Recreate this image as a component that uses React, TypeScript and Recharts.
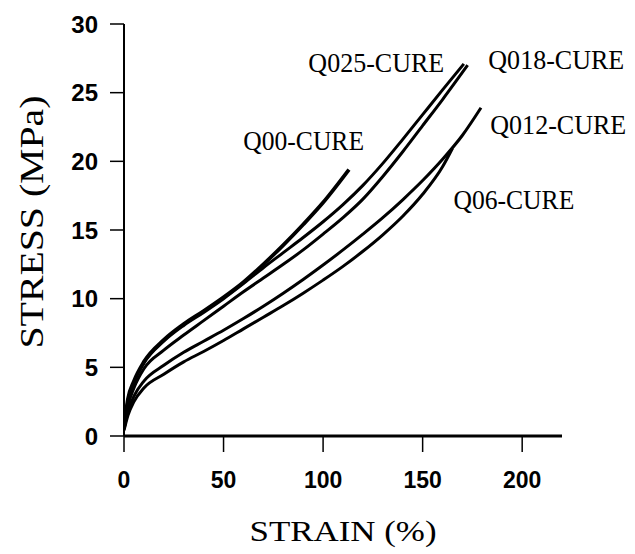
import React from 'react';
import { LineChart, Line, XAxis, YAxis, ReferenceDot, Label } from 'recharts';

// Axis ticks
const strainTicks = [0, 50, 100, 150, 200];
const stressTicks = [0, 5, 10, 15, 20, 25, 30];

// Series values (strain %, stress MPa)
const q00Strain = [0, 2, 5, 10, 20, 30, 40, 50, 60, 70, 80, 90, 100, 113];
const q00Stress = [0.6, 2.7, 4.0, 5.4, 7.0, 8.15, 9.1, 10.1, 11.2, 12.5, 13.9, 15.4, 17.0, 19.4];

const q025Strain = [0, 2, 5, 10, 20, 30, 40, 50, 60, 70, 80, 90, 100, 110, 120, 130, 140, 150, 160, 170.7];
const q025Stress = [0.6, 2.6, 3.9, 5.3, 6.9, 8.05, 9.0, 10.0, 11.1, 12.25, 13.35, 14.45, 15.6, 16.85, 18.25, 19.85, 21.6, 23.4, 25.2, 27.1];

const q018Strain = [0, 2, 5, 10, 20, 30, 40, 50, 60, 70, 80, 90, 100, 110, 120, 130, 140, 150, 160, 172.6];
const q018Stress = [0.5, 2.2, 3.5, 4.9, 6.25, 7.35, 8.4, 9.45, 10.5, 11.5, 12.5, 13.55, 14.7, 15.9, 17.25, 18.9, 20.7, 22.6, 24.5, 27.0];

const q012Strain = [0, 2, 5, 10, 20, 30, 40, 50, 60, 70, 80, 90, 100, 110, 120, 130, 140, 150, 160, 170, 179.3];
const q012Stress = [0.5, 1.8, 2.9, 4.0, 5.15, 6.1, 6.9, 7.7, 8.55, 9.45, 10.4, 11.4, 12.45, 13.55, 14.7, 15.9, 17.2, 18.6, 20.15, 21.9, 23.9];

const q06Strain = [0, 2, 5, 10, 20, 30, 40, 50, 60, 70, 80, 90, 100, 110, 120, 130, 140, 150, 160, 165];
const q06Stress = [0.4, 1.5, 2.5, 3.5, 4.5, 5.4, 6.15, 6.95, 7.8, 8.65, 9.5, 10.4, 11.35, 12.35, 13.45, 14.65, 16.0, 17.6, 19.6, 20.95];

// Curve labels (anchor at start of text baseline, data coordinates)
const labelNames = ['Q00-CURE', 'Q025-CURE', 'Q018-CURE', 'Q012-CURE', 'Q06-CURE'];
const labelStrain = [59.9, 92.6, 183.0, 184.0, 165.5];
const labelStress = [20.85, 26.5, 26.7, 22.0, 16.5];

const toPoints = (xs: number[], ys: number[]) => xs.map((x, i) => ({ strain: x, stress: ys[i] }));

const series = [
  { name: 'Q00-CURE', data: toPoints(q00Strain, q00Stress), width: 3.8 },
  { name: 'Q025-CURE', data: toPoints(q025Strain, q025Stress), width: 3 },
  { name: 'Q018-CURE', data: toPoints(q018Strain, q018Stress), width: 3 },
  { name: 'Q012-CURE', data: toPoints(q012Strain, q012Stress), width: 3 },
  { name: 'Q06-CURE', data: toPoints(q06Strain, q06Stress), width: 3 },
];

const xTickStyle = { fontFamily: '"Liberation Sans", Arial, sans-serif', fontWeight: 700, fontSize: 23, fill: '#000' };
const yTickStyle = { fontFamily: '"Liberation Sans", Arial, sans-serif', fontWeight: 700, fontSize: 24, fill: '#000' };

export default function App() {
  return (
    <div style={{ position: 'absolute', left: 0, top: 0, background: '#fff' }}>
      <LineChart width={635} height={554} margin={{ top: 24, right: 73, bottom: 0, left: 0 }}>
        <XAxis
          dataKey="strain"
          type="number"
          domain={[0, 220]}
          ticks={strainTicks}
          allowDataOverflow
          height={118}
          tickSize={16}
          tickMargin={20}
          tick={xTickStyle}
          axisLine={{ stroke: '#000', strokeWidth: 3 }}
          tickLine={{ stroke: '#000', strokeWidth: 1.5 }}
        >
          <Label
            content={({ viewBox }: any) => (
              <text
                x={viewBox.x + viewBox.width / 2}
                y={541}
                textAnchor="middle"
                textLength={187}
                lengthAdjust="spacingAndGlyphs"
                style={{ fontFamily: '"Liberation Serif", "Times New Roman", serif', fontSize: 30, fill: '#000' }}
              >
                STRAIN (%)
              </text>
            )}
          />
        </XAxis>
        <YAxis
          type="number"
          domain={[0, 30]}
          ticks={stressTicks}
          width={124}
          tickSize={14}
          tickMargin={12}
          tick={yTickStyle}
          axisLine={{ stroke: '#000', strokeWidth: 2 }}
          tickLine={{ stroke: '#000', strokeWidth: 1.5 }}
        >
          <Label
            content={() => (
              <text
                x={43}
                y={222}
                transform="rotate(-90 43 222)"
                textAnchor="middle"
                textLength={253}
                lengthAdjust="spacingAndGlyphs"
                style={{ fontFamily: '"Liberation Serif", "Times New Roman", serif', fontSize: 33, fill: '#000' }}
              >
                STRESS (MPa)
              </text>
            )}
          />
        </YAxis>
        {series.map((s) => (
          <Line
            key={s.name}
            data={s.data}
            dataKey="stress"
            type="monotone"
            dot={false}
            stroke="#000"
            strokeWidth={s.width}
            isAnimationActive={false}
          />
        ))}
        {labelNames.map((name, i) => (
          <ReferenceDot
            key={name}
            x={labelStrain[i]}
            y={labelStress[i]}
            r={0}
            ifOverflow="visible"
            shape={(p: any) => (
              <text
                x={p.cx}
                y={p.cy}
                textLength={name.length * 15.1}
                lengthAdjust="spacingAndGlyphs"
                style={{ fontFamily: '"Liberation Serif", "Times New Roman", serif', fontSize: 27, fill: '#000' }}
              >
                {name}
              </text>
            )}
          />
        ))}
      </LineChart>
    </div>
  );
}
